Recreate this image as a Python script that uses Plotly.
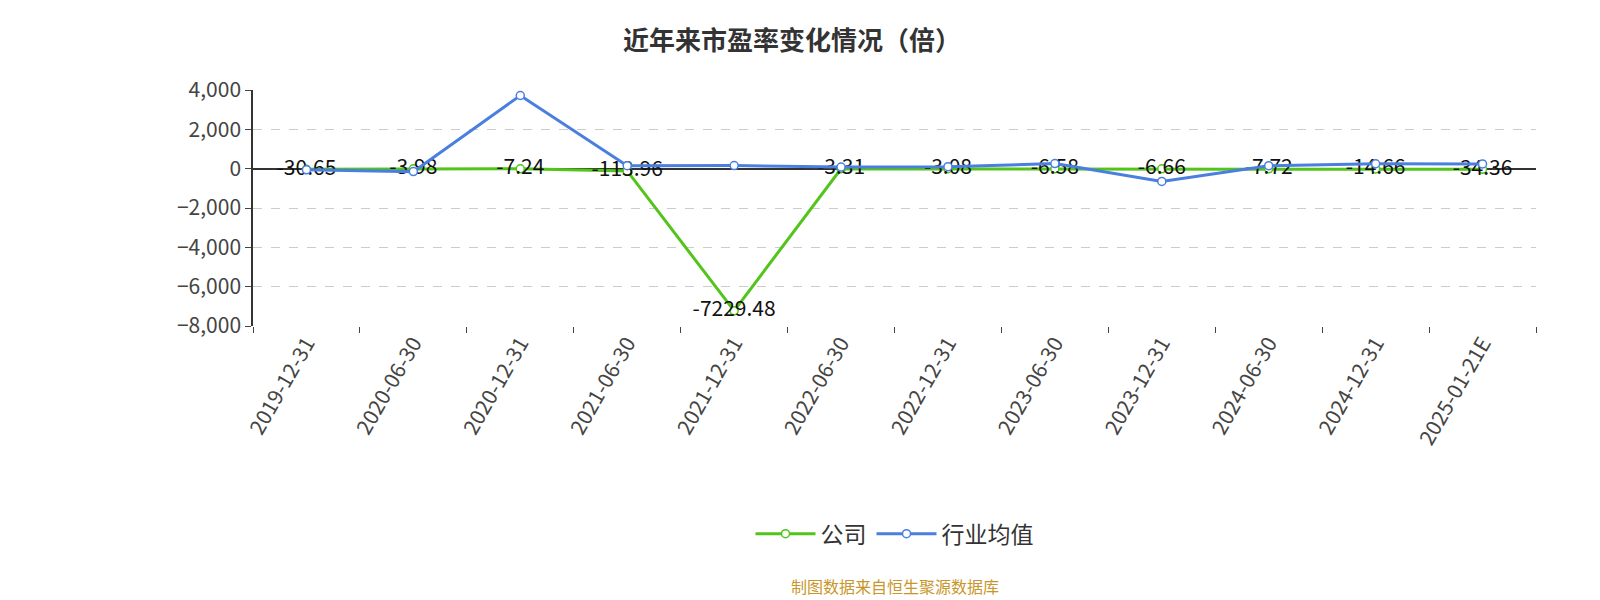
import plotly.graph_objects as go

dates = ['2019-12-31', '2020-06-30', '2020-12-31', '2021-06-30', '2021-12-31', '2022-06-30',
         '2022-12-31', '2023-06-30', '2023-12-31', '2024-06-30', '2024-12-31', '2025-01-21E']
company = [-30.65, -3.98, -7.24, -113.96, -7229.48, -3.31, -3.08, -6.58, -6.66, -7.72, -14.66, -34.36]
industry = [-60, -150, 3720, 150, 160, 80, 100, 260, -650, 150, 250, 240]

font = "Noto Sans CJK SC, Noto Sans, sans-serif"
fig = go.Figure()
fig.add_trace(go.Scatter(x=dates, y=company, name='公司', mode='lines+markers+text',
                         line=dict(color='#52c41a', width=3),
                         marker=dict(size=8, color='white', line=dict(color='#52c41a', width=1.5)),
                         text=[f'{v:g}' for v in company], textposition='middle center',
                         textfont=dict(size=21, color='#111')))
fig.add_trace(go.Scatter(x=dates, y=industry, name='行业均值', mode='lines+markers',
                         line=dict(color='#4a7fe0', width=3),
                         marker=dict(size=8, color='white', line=dict(color='#4a7fe0', width=1.5))))

fig.update_layout(
    width=1600, height=600, plot_bgcolor='white', paper_bgcolor='white',
    font=dict(family=font, size=20, color='#444'),
    title=dict(text='<b>近年来市盈率变化情况（倍）</b>', x=0.49, y=0.96, xanchor='center',
               font=dict(size=26, color='#333')),
    margin=dict(l=245, r=72, t=82, b=282),
    xaxis=dict(type='category', tickangle=-60, showgrid=False, showline=False,
               ticks='outside', ticklen=6, tickson='boundaries', zeroline=False,
               tickfont=dict(size=21, color='#444'), range=[-0.5, 11.5]),
    yaxis=dict(range=[-8000, 4000], dtick=2000, tickformat=',', showline=True,
               linecolor='#333', linewidth=1.5, ticks='outside', ticklen=6,
               gridcolor='#ccc', griddash='dash', zeroline=True, zerolinecolor='#333',
               zerolinewidth=1.5, tickfont=dict(size=21, color='#444')),
    legend=dict(orientation='h', x=0.5, xanchor='center', y=-0.88, yanchor='middle',
                font=dict(size=23, color='#333'), itemwidth=60),
    showlegend=True,
)
fig.add_annotation(text='制图数据来自恒生聚源数据库', xref='paper', yref='paper', x=0.5, y=-1.1,
                   yanchor='middle', showarrow=False, font=dict(size=16, color='#c8962a'))
fig.write_html("out.html")
